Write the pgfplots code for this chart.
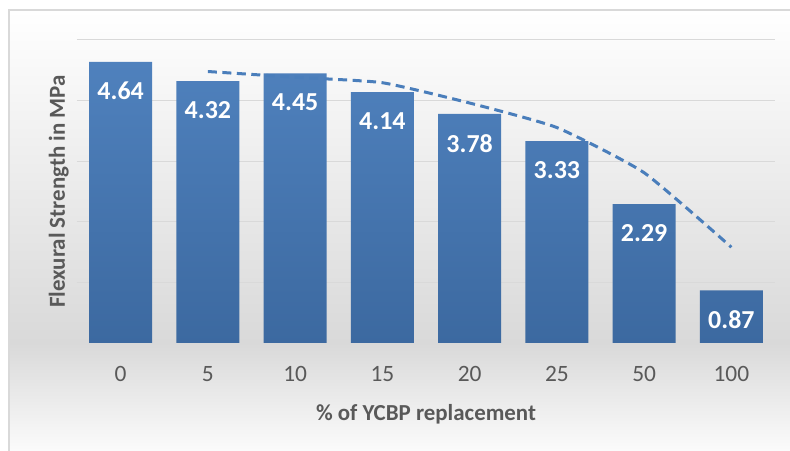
\documentclass[border=0pt]{standalone}
\usepackage{pgfplots}
\pgfplotsset{compat=1.18}
\usepackage{fontspec}
\setmainfont{Carlito}
\definecolor{barTop}{HTML}{4F81BD}
\definecolor{barBot}{HTML}{3C69A0}
\definecolor{lineC}{HTML}{4A7EBB}
\definecolor{txt}{HTML}{595959}
\definecolor{gridC}{HTML}{D9D9D9}
\definecolor{bgG}{HTML}{D9D9D9}
\begin{document}
\begin{tikzpicture}[x=1bp,y=1bp]
\useasboundingbox (-77,-108) rectangle (713,343);
% background
\shade[top color=white, bottom color=bgG] (-68,0) rectangle (720,333);
\shade[top color=bgG, bottom color=white] (-68,-120) rectangle (720,0);
\draw[gridC, line width=1.2bp] (-68,-120) rectangle (720,333);
\begin{axis}[
  at={(0,0)}, anchor=south west,
  scale only axis, width=698bp, height=303bp,
  xmin=-0.5, xmax=7.5, ymin=0, ymax=5,
  axis line style={draw=none},
  xtick=data, xticklabels={0,5,10,15,20,25,50,100},
  ytick={0,1,2,3,4,5}, yticklabels={},
  ymajorgrids, grid style={gridC, line width=1bp},
  major tick length=0pt,
  tick label style={font=\fontsize{23.5}{26}\selectfont, text=txt},
  /pgf/number format/assume math mode=true,
  xticklabel style={yshift=-20bp},
  xlabel={\bfseries \% of YCBP replacement},
  ylabel={\bfseries Flexural Strength in MPa},
  label style={font=\fontsize{23}{26}\selectfont\bfseries, text=txt},
  xlabel style={yshift=-16bp},
  ylabel style={yshift=-2bp},
  clip=false,
]
\addplot[ybar, bar width=63bp, draw=none, top color=barTop, bottom color=barBot,
  nodes near coords,
  every node near coord/.append style={anchor=north, yshift=-20bp, text=white,
    font=\fontsize{26}{28}\selectfont\bfseries, inner sep=0pt},
  point meta=explicit symbolic]
  table[meta=lab] {
  x y lab
  0 4.64 4.64
  1 4.32 4.32
  2 4.45 4.45
  3 4.14 4.14
  4 3.78 3.78
  5 3.33 3.33
  6 2.29 2.29
  7 0.87 0.87
  };
\addplot[lineC, line width=3bp, dash pattern=on 9bp off 5.5bp, smooth, tension=0.3] coordinates {
  (1,4.48) (2,4.385) (3,4.295) (4,3.96) (5,3.555) (6,2.81) (7,1.58)
};
\end{axis}
\end{tikzpicture}
\end{document}
